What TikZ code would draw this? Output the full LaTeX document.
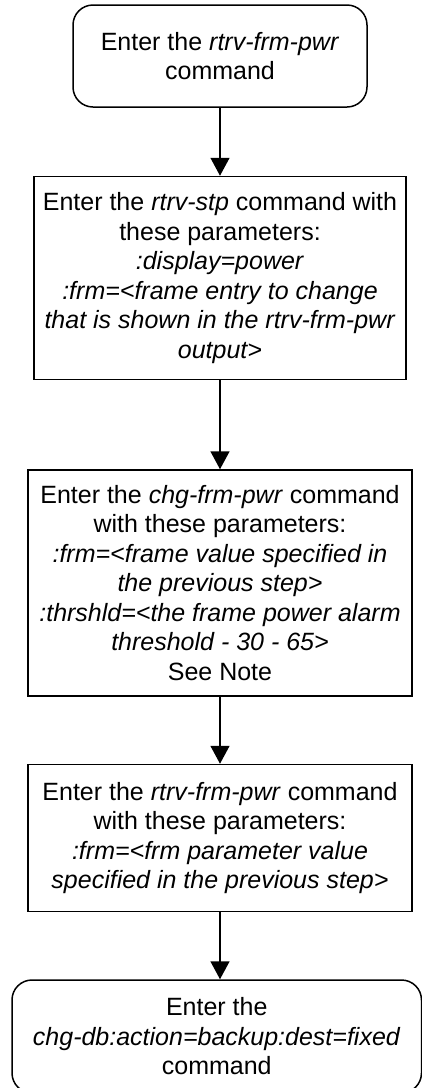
\documentclass[tikz,border=0pt]{standalone}
\usepackage{fontspec}
\setmainfont{Liberation Sans}
\usetikzlibrary{arrows.meta,positioning}

\begin{document}
\begin{tikzpicture}[font=\fontsize{25}{29.5}\selectfont,line width=1.5pt]
\tikzset{stepbox/.style={draw,align=center,inner sep=0pt},
  termbox/.style={stepbox,rounded corners=20pt},
  flow/.style={-{Triangle[length=18pt,width=19pt]}}}
\useasboundingbox (0,0) rectangle (422pt,-1088pt);
\node[termbox,minimum width=294pt,minimum height=102pt] (start) at (220pt,-56pt)
  {Enter the \textit{rtrv-frm-pwr}\\command};
\node[stepbox,below=68pt of start,minimum width=372pt,minimum height=203pt] (rtrvstp)
  {Enter the \textit{rtrv-stp} command with\\these parameters:\\\textit{:display=power}\\
   \textit{:frm=<frame entry to change}\\\textit{that is shown in the rtrv-frm-pwr}\\\textit{output>}};
\node[stepbox,below=89pt of rtrvstp,minimum width=384pt,minimum height=226pt] (chgfrm)
  {Enter the \textit{chg-frm-pwr} command\\with these parameters:\\\textit{:frm=<frame value specified in}\\
   \textit{the previous step>}\\\textit{:thrshld=<the frame power alarm}\\\textit{threshold - 30 - 65>}\\See Note};
\node[stepbox,below=67pt of chgfrm,minimum width=384pt,minimum height=147pt] (rtrvfrm)
  {Enter the \textit{rtrv-frm-pwr} command\\with these parameters:\\\textit{:frm=<frm parameter value}\\
   \textit{specified in the previous step>}};
\node[termbox,below=67pt of rtrvfrm,xshift=-3.25pt,minimum width=409.5pt,minimum height=113pt] (backup)
  {Enter the\\\textit{chg-db:action=backup:dest=fixed}\\command};
\draw[flow] (start) -- (rtrvstp);
\draw[flow] (rtrvstp) -- (chgfrm);
\draw[flow] (chgfrm) -- (rtrvfrm);
\draw[flow] (rtrvfrm.south) -- (rtrvfrm.south |- backup.north);
\end{tikzpicture}
\end{document}
